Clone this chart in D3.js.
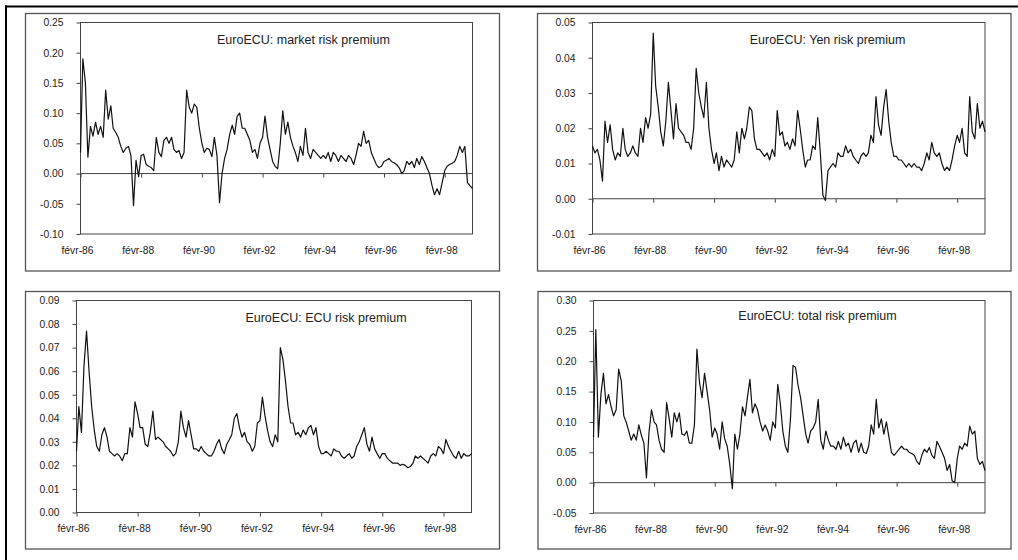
<!DOCTYPE html>
<html>
<head>
<meta charset="utf-8">
<script src="https://cdn.jsdelivr.net/npm/d3@7"></script>
<style>
  html, body { margin: 0; padding: 0; background: #fff; }
  svg { display: block; font-family: "Liberation Sans", Arial, sans-serif; }
</style>
</head>
<body>
<svg id="chart" width="1018" height="560"></svg>
<script>
// Monthly observations, February 1986 to January 1999 (156 months)
const startYear = 1986, startMonth = 1, monthCount = 156;

const marketPremium = [
  0.035,0.19,0.15,0.027,0.078,0.062,0.085,0.065,0.078,0.06,
  0.138,0.09,0.112,0.075,0.068,0.06,0.045,0.035,0.042,0.045,
  0.03,-0.053,0.022,-0.005,0.03,0.032,0.015,0.012,0.01,0.005,
  0.06,0.035,0.028,0.055,0.06,0.05,0.06,0.04,0.035,0.038,
  0.025,0.035,0.138,0.11,0.1,0.115,0.11,0.075,0.05,0.035,
  0.042,0.04,0.028,0.06,0.03,-0.048,0.0,0.025,0.04,0.065,
  0.08,0.065,0.095,0.1,0.075,0.075,0.065,0.055,0.035,0.04,
  0.025,0.05,0.06,0.095,0.06,0.04,0.02,0.012,0.008,0.05,
  0.104,0.065,0.085,0.06,0.045,0.035,0.02,0.045,0.03,0.075,
  0.035,0.025,0.04,0.035,0.03,0.025,0.03,0.025,0.035,0.02,
  0.035,0.03,0.02,0.03,0.025,0.02,0.03,0.025,0.015,0.03,
  0.05,0.045,0.07,0.05,0.055,0.035,0.025,0.015,0.01,0.012,
  0.02,0.022,0.025,0.02,0.018,0.015,0.01,0.0,0.005,0.02,
  0.015,0.02,0.01,0.025,0.015,0.028,0.02,0.01,0.0,-0.02,
  -0.035,-0.025,-0.035,-0.015,0.005,0.012,0.015,0.017,0.02,0.03,
  0.045,0.035,0.045,-0.015,-0.02,-0.025
];

const yenPremium = [
  0.015,0.013,0.014,0.011,0.005,0.022,0.016,0.021,0.014,0.011,
  0.013,0.012,0.02,0.014,0.012,0.013,0.015,0.013,0.012,0.02,
  0.016,0.023,0.02,0.024,0.047,0.032,0.026,0.019,0.015,0.022,
  0.033,0.025,0.017,0.027,0.02,0.019,0.018,0.016,0.016,0.014,
  0.02,0.037,0.03,0.026,0.023,0.033,0.02,0.014,0.01,0.013,
  0.008,0.012,0.009,0.011,0.01,0.009,0.011,0.019,0.013,0.02,
  0.017,0.02,0.026,0.025,0.017,0.014,0.014,0.013,0.012,0.013,
  0.011,0.014,0.012,0.025,0.018,0.019,0.015,0.016,0.014,0.017,
  0.015,0.025,0.02,0.014,0.009,0.011,0.011,0.015,0.014,0.023,
  0.013,0.001,-0.0005,0.008,0.009,0.01,0.009,0.013,0.012,0.012,
  0.015,0.013,0.014,0.012,0.011,0.01,0.012,0.013,0.012,0.013,
  0.018,0.016,0.029,0.021,0.018,0.026,0.031,0.022,0.016,0.012,
  0.012,0.011,0.011,0.01,0.009,0.01,0.009,0.01,0.009,0.009,
  0.008,0.01,0.013,0.011,0.016,0.013,0.012,0.013,0.01,0.008,
  0.009,0.008,0.011,0.015,0.018,0.016,0.02,0.013,0.012,0.029,
  0.019,0.017,0.027,0.02,0.022,0.019
];

const ecuPremium = [
  0.026,0.045,0.034,0.062,0.077,0.06,0.045,0.035,0.028,0.026,
  0.033,0.036,0.032,0.026,0.025,0.024,0.025,0.024,0.022,0.025,
  0.025,0.036,0.032,0.047,0.042,0.036,0.036,0.029,0.028,0.034,
  0.043,0.031,0.032,0.031,0.03,0.028,0.027,0.026,0.024,0.025,
  0.03,0.043,0.036,0.032,0.039,0.033,0.027,0.027,0.026,0.028,
  0.026,0.025,0.024,0.024,0.026,0.029,0.031,0.027,0.025,0.029,
  0.031,0.033,0.04,0.042,0.036,0.032,0.034,0.03,0.029,0.026,
  0.028,0.038,0.039,0.049,0.041,0.035,0.03,0.028,0.033,0.03,
  0.07,0.065,0.056,0.045,0.038,0.038,0.033,0.034,0.032,0.035,
  0.033,0.036,0.037,0.033,0.036,0.028,0.025,0.025,0.026,0.025,
  0.024,0.027,0.026,0.026,0.024,0.023,0.024,0.025,0.023,0.024,
  0.028,0.03,0.033,0.036,0.029,0.026,0.032,0.027,0.025,0.023,
  0.025,0.025,0.023,0.022,0.021,0.021,0.021,0.02,0.0205,0.02,
  0.019,0.0195,0.021,0.024,0.023,0.024,0.023,0.022,0.021,0.024,
  0.025,0.024,0.028,0.027,0.025,0.031,0.028,0.026,0.024,0.023,
  0.026,0.023,0.025,0.024,0.024,0.025
];

const totalPremium = [
  0.075,0.252,0.075,0.145,0.18,0.13,0.145,0.125,0.11,0.12,
  0.187,0.168,0.11,0.1,0.085,0.07,0.08,0.07,0.095,0.078,
  0.065,0.008,0.082,0.12,0.1,0.095,0.07,0.055,0.05,0.132,
  0.105,0.075,0.115,0.1,0.115,0.08,0.078,0.085,0.065,0.065,
  0.095,0.22,0.165,0.14,0.18,0.15,0.12,0.075,0.09,0.08,
  0.055,0.1,0.072,0.06,0.03,-0.01,0.08,0.055,0.08,0.125,
  0.11,0.14,0.17,0.115,0.13,0.12,0.1,0.085,0.095,0.085,
  0.07,0.1,0.09,0.162,0.13,0.085,0.06,0.05,0.105,0.193,
  0.19,0.16,0.14,0.11,0.08,0.065,0.085,0.09,0.1,0.137,
  0.07,0.055,0.085,0.07,0.06,0.06,0.055,0.068,0.055,0.075,
  0.06,0.065,0.05,0.065,0.07,0.05,0.065,0.05,0.048,0.06,
  0.095,0.08,0.137,0.09,0.105,0.08,0.1,0.075,0.05,0.045,
  0.05,0.055,0.06,0.055,0.055,0.05,0.048,0.045,0.035,0.03,
  0.045,0.055,0.05,0.058,0.045,0.04,0.068,0.06,0.05,0.04,
  0.02,0.03,0.003,0.0,0.04,0.06,0.055,0.065,0.06,0.093,
  0.08,0.085,0.04,0.03,0.035,0.02
];

const xTickLabels = ["févr-86","févr-88","févr-90","févr-92","févr-94","févr-96","févr-98"];
const xTickYears = [1986, 1988, 1990, 1992, 1994, 1996, 1998];

const yTicksMarket = [-0.10,-0.05,0.00,0.05,0.10,0.15,0.20,0.25];
const yTicksYen    = [-0.01,0.00,0.01,0.02,0.03,0.04,0.05];
const yTicksEcu    = [0.00,0.01,0.02,0.03,0.04,0.05,0.06,0.07,0.08,0.09];
const yTicksTotal  = [-0.05,0.00,0.05,0.10,0.15,0.20,0.25,0.30];

const titles = [
  "EuroECU: market risk premium",
  "EuroECU: Yen risk premium",
  "EuroECU: ECU risk premium",
  "EuroECU: total risk premium"
];

const dates = d3.range(monthCount).map(k => new Date(startYear, startMonth + k, 1));
const tickDates = xTickYears.map(y => new Date(y, 1, 1));

// Panel geometry
const panels = [
  { title: titles[0], values: marketPremium, ticks: yTicksMarket,
    box: [25.5, 13.5, 499.5, 271], plot: { l: 80.5, r: 472.5, t: 22.5, b: 234 }, tx: 303.5, ty: 44 },
  { title: titles[1], values: yenPremium, ticks: yTicksYen,
    box: [537.5, 13.5, 1011, 271], plot: { l: 592.5, r: 985, t: 22.5, b: 234 }, tx: 827.5, ty: 43.5 },
  { title: titles[2], values: ecuPremium, ticks: yTicksEcu,
    box: [25.5, 291.5, 499.5, 549], plot: { l: 76.5, r: 471.5, t: 300.5, b: 512.5 }, tx: 326, ty: 321.5 },
  { title: titles[3], values: totalPremium, ticks: yTicksTotal,
    box: [538, 291.5, 1011, 549], plot: { l: 593.5, r: 985, t: 300.5, b: 513 }, tx: 817.5, ty: 320 }
];

const svg = d3.select("#chart");
const textColor = "#222";
const axisColor = "#444";
const fmt = d => d.toFixed(2);

// Outer frame (left and top edges)
svg.append("line").attr("x1", 6).attr("x2", 6).attr("y1", 5.5).attr("y2", 560)
  .attr("stroke", "#000").attr("stroke-width", 2);
svg.append("line").attr("x1", 5).attr("x2", 1018).attr("y1", 6.5).attr("y2", 6.5)
  .attr("stroke", "#000").attr("stroke-width", 2);

panels.forEach(p => {
  const g = svg.append("g");
  const { l, r, t, b } = p.plot;

  // Panel box
  g.append("rect")
    .attr("x", p.box[0]).attr("y", p.box[1])
    .attr("width", p.box[2] - p.box[0]).attr("height", p.box[3] - p.box[1])
    .attr("fill", "none").attr("stroke", "#555").attr("stroke-width", 1.3);

  const x = d3.scaleTime().domain([dates[0], dates[dates.length - 1]]).range([l, r]);
  const y = d3.scaleLinear().domain([p.ticks[0], p.ticks[p.ticks.length - 1]]).range([b, t]);

  // Plot area border
  g.append("rect")
    .attr("x", l).attr("y", t).attr("width", r - l).attr("height", b - t)
    .attr("fill", "none").attr("stroke", axisColor).attr("stroke-width", 1);

  // Value axis
  const yAxis = g.append("g").attr("transform", `translate(${l},0)`)
    .call(d3.axisLeft(y).tickValues(p.ticks).tickSize(4).tickPadding(13).tickFormat(fmt));
  yAxis.select(".domain").remove();
  yAxis.selectAll("line").attr("stroke", axisColor);
  yAxis.selectAll("text").attr("fill", textColor)
    .style("font-size", "10.3px").style("font-family", "'Liberation Sans', Arial, sans-serif");

  // Category axis at zero, ticks pointing down
  const xAxis = g.append("g").attr("transform", `translate(0,${y(0)})`)
    .call(d3.axisBottom(x).tickValues(tickDates).tickSize(4).tickFormat(""));
  xAxis.select(".domain").remove();
  xAxis.selectAll("line").attr("stroke", axisColor);
  g.append("line").attr("x1", l).attr("x2", r).attr("y1", y(0)).attr("y2", y(0))
    .attr("stroke", axisColor).attr("stroke-width", 1);

  // Date labels along the bottom of the plot area
  g.selectAll("text.xl").data(tickDates).enter().append("text")
    .attr("class", "xl")
    .attr("x", (d) => x(d) - 3).attr("y", b + 19.5)
    .attr("text-anchor", "middle").attr("fill", textColor)
    .style("font-size", "10.3px")
    .text((d, i) => xTickLabels[i]);

  // Series line
  const line = d3.line().x((d, i) => x(dates[i])).y(d => y(d));
  g.append("path").datum(p.values)
    .attr("d", line).attr("fill", "none")
    .attr("stroke", "#111").attr("stroke-width", 1.2).attr("stroke-linejoin", "round");

  // Title
  g.append("text").attr("x", p.tx).attr("y", p.ty)
    .attr("text-anchor", "middle").attr("fill", textColor)
    .style("font-size", "12.5px").text(p.title);
});
</script>
</body>
</html>
